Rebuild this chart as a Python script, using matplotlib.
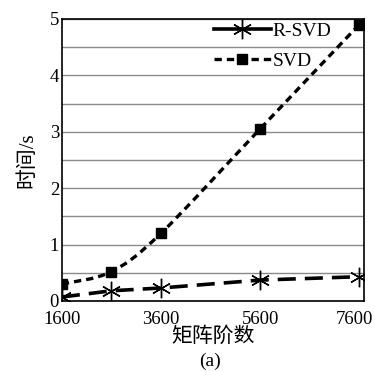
import numpy as np
import matplotlib
matplotlib.use("Agg")
import matplotlib.pyplot as plt
import matplotlib.transforms as mtransforms
from matplotlib.path import Path
from matplotlib.patches import PathPatch
from matplotlib.lines import Line2D

plt.rcParams['font.family'] = ['Liberation Serif', 'Noto Sans CJK SC']

# data
sizes = [1600, 2600, 3600, 5600, 7600]
t_rsvd = [0.07, 0.18, 0.23, 0.37, 0.43]
t_svd = [0.30, 0.52, 1.20, 3.05, 4.90]


def smooth_path(x, y, k=1/6):
    # Excel-style smoothed line: cubic bezier segments through the points
    pts = np.column_stack([x, y]).astype(float)
    verts = [pts[0]]
    codes = [Path.MOVETO]
    n = len(pts)
    for i in range(n - 1):
        p0 = pts[i - 1] if i > 0 else pts[i]
        p1, p2 = pts[i], pts[i + 1]
        p3 = pts[i + 2] if i + 2 < n else pts[i + 1]
        c1 = p1 + (p2 - p0) * k
        c2 = p2 - (p3 - p1) * k
        verts += [c1, c2, p2]
        codes += [Path.CURVE4] * 3
    return Path(verts, codes)


fig = plt.figure(figsize=(3.75, 3.72), dpi=100)
ax = fig.add_axes([0.165, 0.191, 0.806, 0.758])

svd_dash = (0, (2.2, 1.5))

# R-SVD: long dashes with asterisk markers
ax.plot(sizes, t_rsvd, color='black', lw=2.6, dashes=(5, 2.5),
        marker=(6, 2, 0), markersize=14, markeredgewidth=1.0, zorder=3)

# SVD: smoothed short-dash curve with square markers
ax.add_patch(PathPatch(smooth_path(sizes, t_svd), fill=False, color='black',
                       lw=2.4, linestyle=svd_dash, zorder=3))
ax.plot(sizes, t_svd, linestyle='none', color='black', marker='s',
        markersize=7, zorder=4)

ax.set_xlim(1600, 7700)
ax.set_ylim(0, 5)
ax.set_xticks([1600, 3600, 5600, 7600])
ax.set_yticks([0, 1, 2, 3, 4, 5])
ax.set_yticks(np.arange(0.5, 5, 0.5), minor=True)
ax.grid(True, which='both', axis='y', color='#8a8a8a', lw=1.0)
ax.set_axisbelow(True)
ax.tick_params(axis='both', which='both', length=0, labelsize=13.5)
ax.tick_params(axis='x', pad=7)
ax.tick_params(axis='y', pad=2)
for s in ax.spines.values():
    s.set_color('black')
    s.set_linewidth(1.2)

# nudge the last x label so it stays inside the picture
last = ax.get_xticklabels()[-1]
last.set_transform(last.get_transform() +
                   mtransforms.ScaledTranslation(-5 / 100, 0, fig.dpi_scale_trans))

ax.set_xlabel('矩阵阶数', fontsize=15, labelpad=0)
ax.set_ylabel('时间/s', fontsize=15, labelpad=9)
fig.text(0.56, 0.005, '(a)', ha='center', va='bottom', fontsize=14)

handles = [
    Line2D([], [], color='black', lw=2.6, marker=(6, 2, 0), markersize=14,
           markeredgewidth=1.0),
    Line2D([], [], color='black', lw=2.4, linestyle=svd_dash, marker='s',
           markersize=7),
]
ax.legend(handles, ['R-SVD', 'SVD'], loc='upper right',
          bbox_to_anchor=(0.93, 1.03), frameon=False, fontsize=14,
          handlelength=2.9, handletextpad=0.1, labelspacing=0.65,
          borderaxespad=0.2)

fig.savefig('out.png', dpi=100)
